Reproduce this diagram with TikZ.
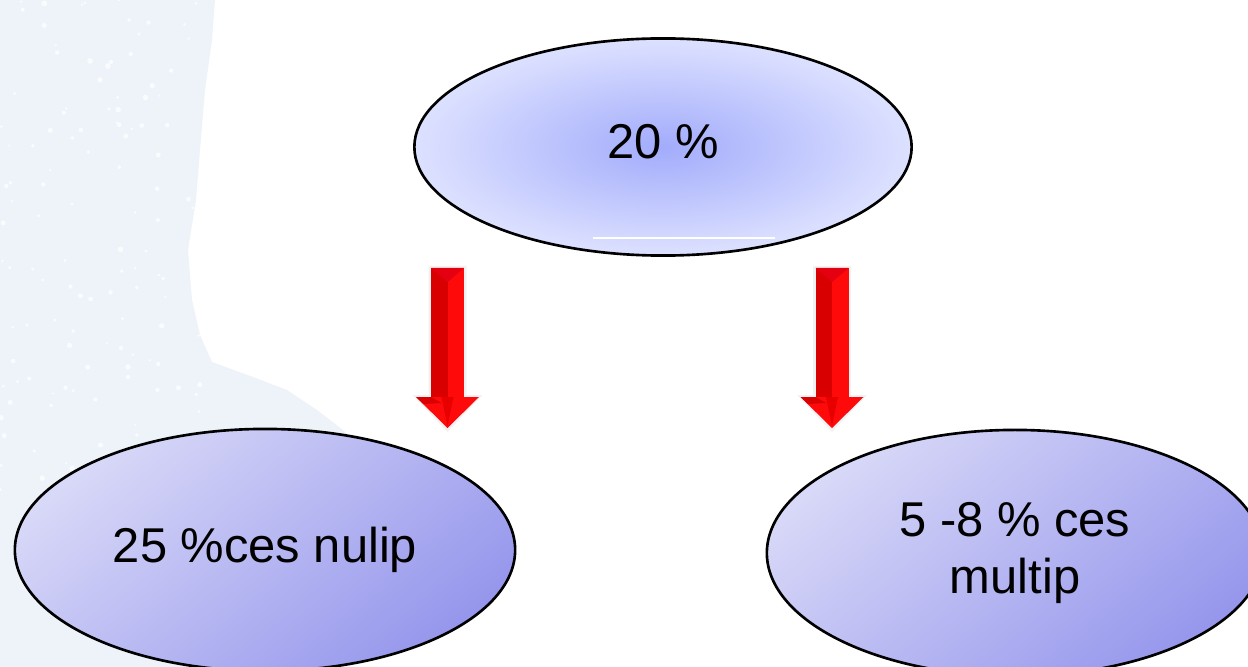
\documentclass[tikz,border=0pt]{standalone}
\usepackage{fontspec}
\setmainfont{Liberation Sans}
\usetikzlibrary{shapes.geometric}

\definecolor{mapblue}{HTML}{EEF3FA}
\definecolor{ovalcore}{HTML}{A2ACFB}
\definecolor{ovalrim}{HTML}{DDE1FF}
\definecolor{ovallight}{HTML}{D8D8F8}
\definecolor{ovaldeep}{HTML}{9697EC}
\definecolor{arrowred}{HTML}{FF0A0A}
\definecolor{arrowdark}{HTML}{D80000}
\definecolor{arrowtop}{HTML}{E40010}
\definecolor{arrowridge}{HTML}{E80000}

\tikzset{
  oval/.style={ellipse, draw=black, line width=0.75pt, inner sep=0pt,
    align=center, font=\fontsize{13.9}{16.4}\selectfont},
  radialoval/.style={oval, inner color=ovalcore, outer color=ovalrim},
  slantoval/.style={oval, top color=ovallight, bottom color=ovaldeep, shading angle=40},
  downarrow/.pic={
    % faint halo
    \fill[black, opacity=0.05] (-19,-2) -- (19,-2) -- (19,127) -- (35,127)
      -- (0,164) -- (-35,127) -- (-19,127) -- cycle;
    % shaft: darker left face, brighter right face
    \fill[arrowdark] (-16.5,0) rectangle (0,129);
    \fill[arrowred] (0,0) rectangle (16.5,129);
    % bevelled top
    \fill[arrowtop] (-16.5,0) -- (16.5,0) -- (0,14) -- cycle;
    % head
    \fill[arrowred] (-31.5,129) -- (31.5,129) -- (0,160) -- cycle;
    \fill[arrowridge] (-6,129) -- (6,129) -- (0,158) -- cycle;
    \fill[arrowdark] (-31.5,129) -- (-16.5,129) -- (-6,135) -- (-24,136) -- cycle;
  }
}

\begin{document}
\begin{tikzpicture}[x=0.01cm, y=-0.01cm]
\useasboundingbox (0,0) rectangle (1248,667);
\fill[white] (0,0) rectangle (1248,667);

% pale map region on the left
\def\mappath{(0,0) -- (215,0) -- (212,40) -- (205,90) -- (200,150) -- (196,200)
  -- (188,250) -- (192,300) -- (200,335) -- (212,362) -- (253,377) -- (287,390)
  -- (317,410) -- (343,430) -- (380,470) -- (340,667) -- (0,667) -- cycle}
\fill[mapblue] \mappath;
\begin{scope}
  \clip \mappath;
  \pgfmathsetseed{11}
  \foreach \i in {1,...,140} {
    \pgfmathsetmacro{\px}{215*rnd}
    \pgfmathsetmacro{\py}{560*rnd}
    \pgfmathsetmacro{\pr}{0.3+0.5*rnd}
    \fill[white, opacity=0.75] (\px,\py) circle[radius=\pr pt];
  }
\end{scope}

% ovals
\node[radialoval, minimum width=4.97cm, minimum height=2.17cm] (top) at (663,147)
  {\raisebox{0.12cm}{20 \%}};
\draw[white, line width=0.5pt] (593,238) -- (775,238);

\node[slantoval, minimum width=5.0cm, minimum height=2.42cm] (nulip) at (265,550)
  {25 \%ces nulip};
\node[slantoval, minimum width=4.96cm, minimum height=2.46cm] (multip) at (1015,553)
  {5 -8 \% ces\\multip};

% red arrows between the ovals
\coordinate (arrowA) at (447.5,268);
\coordinate (arrowB) at (832,268);
\pic at (arrowA) {downarrow};
\pic at (arrowB) {downarrow};
\end{tikzpicture}
\end{document}
